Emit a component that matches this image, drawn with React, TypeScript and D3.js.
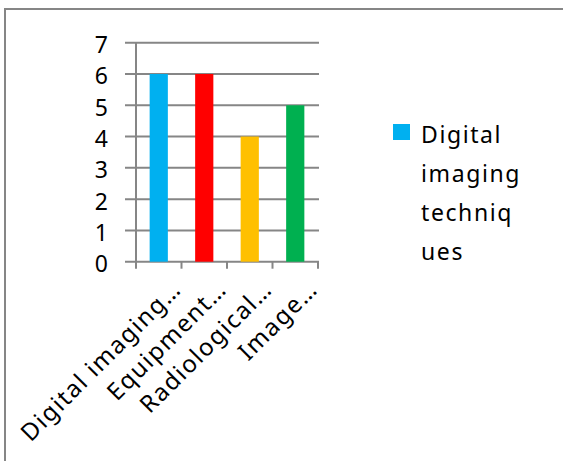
import { useRef, useEffect } from 'react';
import * as d3 from 'd3';

const categories = ['Digital imaging…', 'Equipment…', 'Radiological…', 'Image…'];
const values = [6, 6, 4, 5];
const barColors = ['#00b0f0', '#ff0000', '#ffc000', '#00b050'];
const yTicks = [0, 1, 2, 3, 4, 5, 6, 7];
const legendLines = ['Digital', 'imaging', 'techniq', 'ues'];

export default function App() {
  const svgRef = useRef<SVGSVGElement>(null);

  useEffect(() => {
    const width = 563;
    const height = 461;
    const font = '"Noto Sans", "Open Sans", sans-serif';
    const grid = '#868686';

    const svg = d3.select(svgRef.current)
      .attr('width', width)
      .attr('height', height);
    svg.selectAll('*').remove();

    // chart frame (right / bottom edges fall outside the picture)
    svg.append('path')
      .attr('d', `M5,${height} V9 H${width}`)
      .attr('fill', 'none')
      .attr('stroke', grid)
      .attr('stroke-width', 2);

    const x = d3.scaleBand<string>()
      .domain(categories)
      .range([136, 318])
      .paddingInner(0.6)
      .paddingOuter(0.3);

    const y = d3.scaleLinear()
      .domain([0, 7])
      .range([261.7, 42.7]);

    // gridlines + y labels
    const g = svg.append('g');
    g.selectAll('line.grid')
      .data(yTicks)
      .enter()
      .append('line')
      .attr('x1', 125)
      .attr('x2', 319)
      .attr('y1', d => y(d))
      .attr('y2', d => y(d))
      .attr('stroke', grid)
      .attr('stroke-width', 2);

    g.selectAll('text.ylab')
      .data(yTicks)
      .enter()
      .append('text')
      .attr('x', 108)
      .attr('y', d => y(d))
      .attr('dy', 10.5)
      .attr('text-anchor', 'end')
      .attr('font-family', font)
      .attr('font-size', 23)
      .attr('fill', '#000')
      .text(d => d);

    // y axis line
    g.append('line')
      .attr('x1', 136).attr('x2', 136)
      .attr('y1', y(7)).attr('y2', y(0))
      .attr('stroke', grid)
      .attr('stroke-width', 2);

    // category tick marks at band edges
    const step = x.step();
    const edges = d3.range(categories.length + 1).map(i => 136 + i * step);
    g.selectAll('line.xtick')
      .data(edges)
      .enter()
      .append('line')
      .attr('x1', d => d).attr('x2', d => d)
      .attr('y1', y(0)).attr('y2', y(0) + 7)
      .attr('stroke', grid)
      .attr('stroke-width', 2);

    // bars
    svg.selectAll('rect.bar')
      .data(values)
      .enter()
      .append('rect')
      .attr('x', (d, i) => x(categories[i])!)
      .attr('y', d => y(d))
      .attr('width', x.bandwidth())
      .attr('height', d => y(0) - y(d))
      .attr('fill', (d, i) => barColors[i]);

    // rotated category labels
    svg.selectAll('text.xlab')
      .data(categories)
      .enter()
      .append('text')
      .attr('transform', d => `translate(${x(d)! + x.bandwidth() / 2 + 24}, ${y(0) + 29}) rotate(-45)`)
      .attr('text-anchor', 'end')
      .attr('font-family', font)
      .attr('font-size', 24)
      .attr('letter-spacing', 1.5)
      .attr('fill', '#000')
      .text(d => d);

    // legend
    const legend = svg.append('g');
    legend.append('rect')
      .attr('x', 393).attr('y', 124)
      .attr('width', 17).attr('height', 16)
      .attr('fill', barColors[0]);
    legend.selectAll('text')
      .data(legendLines)
      .enter()
      .append('text')
      .attr('x', 421)
      .attr('y', (d, i) => 142.7 + i * 39)
      .attr('font-family', font)
      .attr('font-size', 23)
      .attr('letter-spacing', 1.6)
      .attr('fill', '#000')
      .text(d => d);
  }, []);

  return (
    <svg ref={svgRef} style={{ position: 'absolute', left: 0, top: 0 }} />
  );
}
